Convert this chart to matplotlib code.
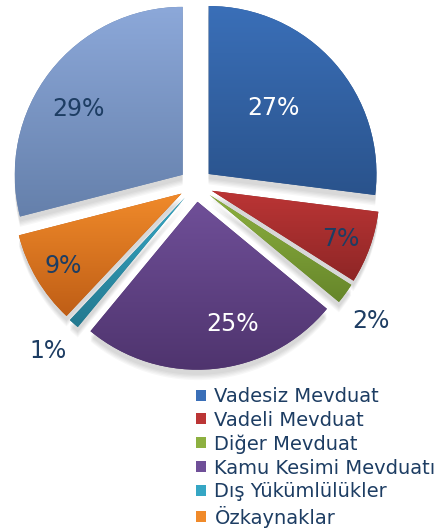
import numpy as np
import matplotlib
matplotlib.use('Agg')
import matplotlib.pyplot as plt
from matplotlib.colors import LinearSegmentedColormap
from matplotlib.patches import Wedge, Patch

# Pie data (percent)
labels = ['Vadesiz Mevduat', 'Vadeli Mevduat', 'Diğer Mevduat',
          'Kamu Kesimi Mevduatı', 'Dış Yükümlülükler', 'Özkaynaklar', '']
values = [27, 7, 2, 25, 1, 9, 29]

# top / bottom colours of the gradient fill
top_colors = ['#3a6fb8', '#bb3535', '#8db040', '#6f4f98', '#35a6c4', '#f08a2a', '#8ca8d9']
bot_colors = ['#2a538c', '#8e2626', '#66862a', '#4f346e', '#24798f', '#bf5e16', '#6580ab']
text_colors = ['white', '#1d3d63', '#1d3d63', 'white', '#1d3d63', '#1d3d63', '#1d3d63']
navy = '#1d3d63'

# label positions (data units, pie radius = 1)
label_pos = [(0.46, 0.46), (0.86, -0.32), (1.04, -0.81), (0.22, -0.83),
             (-0.88, -0.99), (-0.79, -0.48), (-0.70, 0.45)]

fig = plt.figure(figsize=(4.4, 5.31), dpi=100)
ax = fig.add_axes([-0.0127, 0.272, 0.916, 0.759])

wedges, _ = ax.pie(values, startangle=90, counterclock=False,
                   explode=[0.1] * len(values), radius=1.0,
                   wedgeprops=dict(edgecolor='none'))

# soft shadow under the slices
for w in wedges:
    cx, cy = w.center
    for k in range(5):
        sh = Wedge((cx, cy - 0.03 - 0.008 * k), w.r, w.theta1, w.theta2,
                   facecolor='black', alpha=0.03, edgecolor='none', zorder=0)
        ax.add_patch(sh)

# vertical gradient inside each slice
for w, ct, cb in zip(wedges, top_colors, bot_colors):
    w.set_facecolor(cb)
    ext = w.get_path().get_extents()
    cmap = LinearSegmentedColormap.from_list('g', [ct, cb])
    grad = np.linspace(0, 1, 256)[:, None]
    im = ax.imshow(grad, extent=[ext.x0, ext.x1, ext.y0, ext.y1], cmap=cmap,
                   aspect='auto', zorder=3, interpolation='bilinear')
    im.set_clip_path(w)

for v, (x, y), c in zip(values, label_pos, text_colors):
    ax.text(x, y, f'{v}%', ha='center', va='center', fontsize=17,
            color=c, zorder=5)

ax.set_xlim(-1.2, 1.2)
ax.set_ylim(-1.2, 1.2)
ax.set_aspect('equal')
ax.axis('off')

handles = [Patch(facecolor=c, edgecolor='none') for c in top_colors[:6]]
leg = fig.legend(handles, labels[:6], loc='upper left',
                 bbox_to_anchor=(196 / 440, 1 - 387 / 531), frameon=False,
                 fontsize=14, handlelength=0.5, handleheight=0.5,
                 handletextpad=0.45, labelspacing=0.24, borderpad=0,
                 borderaxespad=0)
for t in leg.get_texts():
    t.set_color(navy)

fig.savefig('out.png', dpi=100)
